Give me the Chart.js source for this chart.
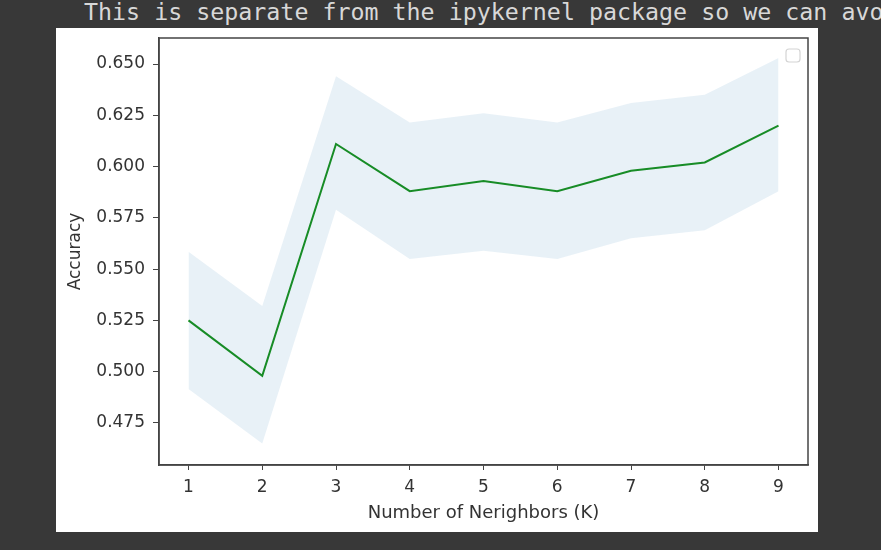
<!DOCTYPE html>
<html>
<head>
<meta charset="utf-8">
<script src="https://cdn.jsdelivr.net/npm/chart.js@4"></script>
<style>
  html, body { margin: 0; padding: 0; }
  body { width: 881px; height: 550px; background: #383838; position: relative; overflow: hidden; }
  #msg {
    position: absolute; left: 84px; top: -1px;
    font-family: "DejaVu Sans Mono", monospace; font-size: 23.3px;
    color: #d8d8d8; white-space: nowrap; line-height: 26px;
  }
  #panel { position: absolute; left: 56px; top: 28px; width: 762px; height: 504px; background: #fff; }
</style>
</head>
<body>
<div id="msg">This is separate from the ipykernel package so we can avoid doing imports until</div>
<div id="panel"><canvas id="chart" width="762" height="504"></canvas></div>
<script>
// data
const kValues = [1, 2, 3, 4, 5, 6, 7, 8, 9];
const accMean = [0.525, 0.498, 0.611, 0.588, 0.593, 0.588, 0.598, 0.602, 0.620];
const accUpper = [0.5585, 0.532, 0.644, 0.6215, 0.626, 0.6215, 0.631, 0.635, 0.653];
const accLower = [0.4915, 0.465, 0.579, 0.555, 0.559, 0.555, 0.565, 0.569, 0.588];
const yTicks = [0.475, 0.500, 0.525, 0.550, 0.575, 0.600, 0.625, 0.650];

const pts = arr => kValues.map((k, i) => ({ x: k, y: arr[i] }));
const tickFont = { family: 'DejaVu Sans', size: 17 };

// top + right spines and the empty legend box
const framePlugin = {
  id: 'frame',
  afterDraw(chart) {
    const { ctx, chartArea: a } = chart;
    ctx.save();
    ctx.strokeStyle = '#444';
    ctx.lineWidth = 1.5;
    ctx.strokeRect(a.left, a.top, a.right - a.left, a.bottom - a.top);
    ctx.strokeStyle = '#d4d4d4';
    ctx.lineWidth = 1.2;
    ctx.fillStyle = '#fff';
    ctx.beginPath();
    ctx.roundRect(a.right - 22, a.top + 11, 14, 13, 3);
    ctx.fill();
    ctx.stroke();
    ctx.restore();
  }
};

new Chart(document.getElementById('chart'), {
  type: 'line',
  data: {
    datasets: [
      { data: pts(accUpper), borderWidth: 0, pointRadius: 0, fill: '+1',
        backgroundColor: 'rgba(31,119,180,0.1)', tension: 0 },
      { data: pts(accLower), borderWidth: 0, pointRadius: 0, fill: false, tension: 0 },
      { data: pts(accMean), borderColor: '#178f17', borderWidth: 2, pointRadius: 0,
        fill: false, tension: 0 }
    ]
  },
  options: {
    responsive: false,
    animation: false,
    layout: { padding: { top: 10, right: 10, left: 0, bottom: 0 } },
    plugins: { legend: { display: false }, tooltip: { enabled: false } },
    scales: {
      x: {
        type: 'linear', min: 0.6, max: 9.4,
        afterBuildTicks: s => { s.ticks = kValues.map(v => ({ value: v })); },
        afterFit: s => { s.height = 67; s.paddingLeft = 0; s.paddingRight = 0; },
        grid: { drawOnChartArea: false, drawTicks: true, tickLength: 5, color: '#444' },
        border: { display: true, color: '#444', width: 1.5 },
        ticks: { color: '#333', font: tickFont, padding: 7, maxRotation: 0 },
        title: { display: true, text: 'Number of Nerighbors (K)', color: '#333',
                 font: { family: 'DejaVu Sans', size: 18 }, padding: { bottom: 8 } }
      },
      y: {
        type: 'linear', min: 0.4545, max: 0.6627,
        afterBuildTicks: s => { s.ticks = yTicks.map(v => ({ value: v })); },
        afterFit: s => { s.width = 103; s.paddingTop = 0; s.paddingBottom = 0; },
        grid: { drawOnChartArea: false, drawTicks: true, tickLength: 6, color: '#444' },
        border: { display: true, color: '#444', width: 1.5 },
        ticks: { color: '#333', font: tickFont, padding: 8,
                 callback: v => v.toFixed(3) },
        title: { display: true, text: 'Accuracy', color: '#333',
                 font: tickFont, padding: { top: 9 } }
      }
    }
  },
  plugins: [framePlugin]
});
</script>
</body>
</html>
